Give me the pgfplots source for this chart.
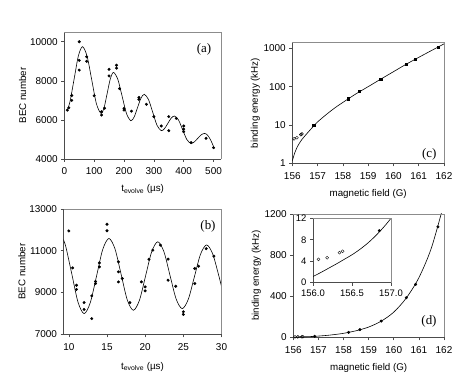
\documentclass[border=0pt]{standalone}
\usepackage{pgfplots}
\pgfplotsset{compat=1.18}
\usepackage{pgfplotstable}
\usepackage{fontspec}
\setmainfont{Liberation Sans}
\newfontfamily\tnr{Liberation Serif}

% fitted binding-energy curve, shared by (c), (d) and the inset
\pgfplotstableread{
B E
156.0 1.15
156.1 1.9
156.2 2.7
156.3 3.5
156.4 4.35
156.5 5.2
156.6 6.2
156.7 7.35
156.8 8.7
156.9 10.25
157.0 12.0
157.25 16.65
157.5 22.6
157.75 30.0
158.0 38.8
158.5 63.7
159.0 99.8
159.5 157
160.0 245
160.5 383
161.0 580
161.5 871
162.0 1303
}\fitcurve

\pgfplotstableread{
B E
156.85 9.7
158.2 48
158.65 75
159.5 158
160.5 385
160.87 515
161.76 1075
}\filled

\pgfplotstableread{
B E
156.07 4.35
156.18 4.65
156.34 5.6
156.38 5.85
}\hollow

\pgfplotsset{
  panel/.style={
    scale only axis, anchor=south west,
    axis x line*=bottom, axis y line*=left,
    axis line style={black!70, line width=0.6bp},
    tick align=outside, major tick length=3bp,
    tick style={black!70, line width=0.6bp},
    every tick label/.append style={font=\fontsize{10}{12}\selectfont},
    label style={font=\fontsize{9.8}{11}\selectfont},
    xticklabel shift=2.5bp,
    xlabel shift=3bp,
    ylabel shift=-3bp,
    /pgf/number format/assume math mode=true,
    scaled ticks=false,
    after end axis/.code={
      \draw[black!45, line width=0.6bp] (rel axis cs:0,1) -- (rel axis cs:1,1) -- (rel axis cs:1,0);
    },
  },
  fit/.style={black, line width=0.6bp, smooth, no markers},
  dots/.style={only marks, mark=*, mark size=1.3bp, black},
  rings/.style={only marks, mark=o, mark size=1.5bp, black, mark options={line width=0.4bp}},
}

\begin{document}
\begin{tikzpicture}
\useasboundingbox (0,0) rectangle (475bp,375bp);

% (a)
\begin{axis}[panel, at={(64.3bp,216bp)}, width=156.7bp, height=127bp,
  xmin=0, xmax=525, ymin=4000, ymax=10500,
  xtick={0,100,200,300,400,500}, xticklabels={0,100,200,300,400,500},
  ytick={4000,6000,8000,10000}, yticklabels={4000,6000,8000,10000},
  xlabel={t\textsubscript{evolve} (µs)}, ylabel={BEC number}]
\addplot[fit] coordinates {(10,6514)(19,6933)(33,8100)(47,9267)(61,9750)(76.5,9250)(92,8043)(107.5,6835)(123,6335)(133.5,6642)(144,7383)(154.5,8124)(165,8430)(179.5,8068)(194,7195)(208.5,6322)(223,5960)(234.25,6158)(245.5,6635)(256.75,7112)(268,7310)(282.25,7038)(296.5,6380)(310.75,5722)(325,5450)(336,5560)(347,5825)(358,6090)(369,6200)(382.75,5995)(396.5,5500)(410.25,5005)(424,4800)(435.5,4875)(447,5055)(458.5,5235)(470,5310)(480,5220)(490,4980)(500,4640)};
\addplot[dots] coordinates {(10,6500)(15,6620)(25,7000)(25,7250)(50,10000)(50,9050)(50,8550)(75,9230)(75,9000)(100,7240)(125,6420)(125,6250)(135,6600)(150,8590)(150,8250)(175,8800)(175,8650)(185,7600)(200,6590)(200,6500)(225,6450)(250,7150)(250,7050)(275,6800)(300,6170)(325,5690)(350,5450)(350,6170)(375,6080)(400,5690)(400,5530)(400,5400)(425,4840)(475,5060)(500,4580)};
\end{axis}

% (b)
\begin{axis}[panel, at={(63.5bp,40.7bp)}, width=158bp, height=125.3bp,
  xmin=9.3, xmax=30, ymin=7000, ymax=13000,
  xtick={10,15,20,25,30}, xticklabels={10,15,20,25,30},
  ytick={7000,9000,11000,13000}, yticklabels={7000,9000,11000,13000},
  xlabel shift=5bp,
  xlabel={t\textsubscript{evolve} (µs)}, ylabel={BEC number}]
\addplot[fit] coordinates {(9.25,11560)(9.6,11199)(10.4,9870)(11.2,8541)(12.0,7990)(12.81,8517)(13.63,9790)(14.44,11063)(15.25,11590)(16.05,11086)(16.85,9870)(17.65,8654)(18.45,8150)(19.25,8630)(20.05,9790)(20.85,10950)(21.65,11430)(22.45,10961)(23.25,9830)(24.05,8699)(24.85,8230)(25.65,8677)(26.45,9755)(27.25,10833)(28.05,11280)(28.85,10846)(29.65,9800)(30,9298)};
\addplot[dots] coordinates {(10,11950)(10.5,10180)(11,9350)(11,9150)(12,8520)(12,8190)(13,7750)(13,8840)(13.5,9530)(13.5,9430)(14,10420)(14,10230)(15,12270)(15,11960)(16.5,10470)(16.5,9990)(16.5,9510)(17,9670)(18,8520)(19.5,9510)(20,9270)(20,9080)(20.5,10590)(21,11030)(22,11270)(23,10600)(23,9590)(24,9300)(25,8080)(25,7950)(26.5,9430)(26.5,10150)(27,10260)(28,11100)(29,10740)};
\end{axis}

% (c)
\begin{axis}[panel, at={(292.3bp,211.7bp)}, width=151.7bp, height=120.6bp,
  xmin=156, xmax=162, ymode=log, ymin=1, ymax=1400, yminorticks=false,
  xtick={156,...,162}, xticklabels={156,157,158,159,160,161,162},
  ytick={1,10,100,1000}, yticklabels={1,10,100,1000},
  xlabel={magnetic field (G)}, ylabel={binding energy (kHz)}]
\addplot[fit] table[x=B,y=E] {\fitcurve};
\addplot[dots, mark=square*, mark size=1.2bp] table[x=B,y=E] {\filled};
\addplot[rings] table[x=B,y=E] {\hollow};
\end{axis}

% (d)
\begin{axis}[panel, at={(293.3bp,37.7bp)}, width=150.7bp, height=123.3bp,
  xmin=156, xmax=162, ymin=0, ymax=1200,
  xtick={156,...,162}, xticklabels={156,157,158,159,160,161,162},
  ytick={0,400,800,1200}, yticklabels={0,400,800,1200},
  xlabel={magnetic field (G)}, ylabel={binding energy (kHz)}]
\addplot[fit] table[x=B,y=E] {\fitcurve};
\addplot[dots] table[x=B,y=E] {\filled};
\addplot[rings] table[x=B,y=E] {\hollow};
\end{axis}

% inset
\begin{axis}[panel, at={(313bp,92.3bp)}, width=78bp, height=64.4bp,
  axis background/.style={fill=white},
  xmin=156, xmax=157, ymin=0, ymax=12,
  xtick={156,156.5,157}, xticklabels={156.0,156.5,157.0},
  ytick={0,4,8,12}, yticklabels={0,4,8,12},
  xticklabel shift=1bp,
  every tick label/.append style={font=\fontsize{9.5}{11}\selectfont}]
\addplot[fit] table[x=B,y=E] {\fitcurve};
\addplot[dots] table[x=B,y=E] {\filled};
\addplot[rings] table[x=B,y=E] {\hollow};
\end{axis}

\node[font=\tnr\fontsize{13}{15}\selectfont] at (204bp,326bp) {(a)};
\node[font=\tnr\fontsize{13}{15}\selectfont] at (208bp,148.3bp) {(b)};
\node[font=\tnr\fontsize{13}{15}\selectfont] at (429.3bp,221bp) {(c)};
\node[font=\tnr\fontsize{13}{15}\selectfont] at (429bp,54bp) {(d)};
\end{tikzpicture}
\end{document}
